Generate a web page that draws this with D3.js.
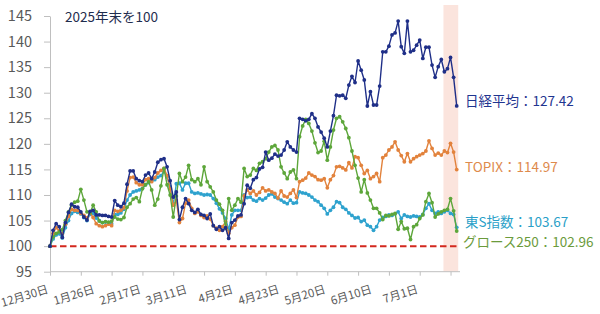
<!DOCTYPE html>
<html><head><meta charset="utf-8">
<script src="https://cdn.jsdelivr.net/npm/d3@7"></script>
<style>
body{margin:0;background:#fff;}
svg{display:block;font-family:"Noto Sans CJK JP","Noto Sans",sans-serif;}
</style>
</head><body>
<svg id="c" width="600" height="314"></svg>
<script>
// ---- data (index = trading day since 2025-12-30, 2025年末=100) ----
const nikkei = [100,103.1,104.4,103.8,101.7,104.6,106.6,108.2,107.7,107.6,
106.7,105.7,105.1,106.8,107.0,106.1,106.1,106.0,106.0,105.8,
105.7,108.9,108.0,107.7,108.4,112.1,114.7,114.7,113.2,112.8,
112.6,113.9,114.3,113.2,114.5,116.4,116.9,117.1,115.5,112.8,
109.6,110.6,105.2,107.6,109.3,108.3,107.0,106.6,107.2,106.2,
106.0,105.4,106.3,104.0,103.3,103.8,103.1,103.6,101.5,104.6,
105.1,105.9,106.1,108.3,111.9,111.3,113.0,113.4,115.1,115.4,
118.4,116.8,117.2,118.0,117.6,117.8,118.8,120.4,119.4,118.8,
118.4,125.0,124.8,124.5,124.8,125.9,125.0,123.3,122.3,121.1,
119.4,122.5,125.5,129.5,129.4,129.5,128.9,131.5,133.2,132.0,
136.2,134.4,132.5,127.4,130.2,127.6,127.6,131.3,138.0,138.0,
139.1,141.3,141.7,144.0,139.0,137.7,144.0,138.0,138.3,139.3,
140.3,136.7,138.9,138.9,135.4,133.0,135.1,136.5,134.1,134.7,
136.9,133.0,127.42];
const topix = [100,102.5,103.6,103.0,102.4,104.3,105.8,107.2,107.0,107.0,
106.4,106.0,105.5,106.5,105.6,104.4,104.0,103.8,104.0,104.3,
104.0,107.0,106.8,107.0,107.5,110.8,113.4,113.5,112.4,112.0,
112.0,113.0,113.2,112.6,113.4,114.3,114.8,115.2,113.8,111.2,
108.0,109.0,104.6,105.4,108.4,109.0,107.4,106.4,106.7,106.0,
105.6,105.9,105.3,104.0,103.5,103.1,103.8,104.8,102.5,103.6,
104.1,105.7,105.8,109.8,111.0,110.3,110.8,110.0,110.5,111.4,
110.8,111.0,110.6,110.3,109.4,110.8,109.8,109.6,110.3,111.0,
109.5,112.6,112.9,113.3,114.3,113.9,113.6,113.0,112.9,113.2,
111.4,113.0,113.8,115.5,115.6,115.3,114.9,116.3,115.3,117.5,
117.3,115.8,114.2,114.8,113.2,113.6,114.2,112.6,117.3,117.8,
118.8,119.4,120.4,118.8,117.7,116.5,118.1,116.5,117.1,117.5,
117.8,118.1,118.6,120.6,119.1,117.8,118.2,117.8,118.6,118.3,
120.1,118.4,114.97];
const tseStandard = [100,101.4,102.2,102.4,101.6,103.6,105.0,106.4,106.8,106.6,
106.3,105.6,105.0,106.2,106.4,105.5,105.0,104.6,104.7,104.6,
104.4,106.2,106.2,106.5,107.2,109.0,110.0,110.6,110.8,111.0,
111.3,112.0,112.4,112.8,113.0,113.5,113.8,114.6,113.5,111.6,
108.0,112.2,112.3,111.0,112.3,112.3,110.6,110.3,110.4,110.2,
110.0,110.1,110.0,109.3,108.4,107.3,106.5,105.4,103.2,106.1,
107.0,107.0,107.0,110.0,109.5,109.6,109.0,108.8,109.3,109.0,
109.4,110.0,110.2,109.6,109.3,109.0,108.6,108.3,109.0,108.4,
108.5,110.6,110.4,110.3,110.0,109.6,109.0,108.7,108.0,107.4,
106.3,107.0,107.6,108.7,108.5,107.6,107.2,106.5,106.0,105.5,
105.6,104.8,105.1,104.1,103.8,103.1,103.8,105.1,105.6,105.8,
106.1,106.0,106.3,106.7,105.4,106.1,105.8,105.7,105.9,105.8,
105.7,106.2,107.4,108.3,107.0,106.4,106.7,106.4,106.7,107.0,
106.4,106.2,103.67];
const growth250 = [100,101.8,102.5,102.8,103.2,105.0,106.7,108.0,108.6,108.8,
111.1,109.0,106.7,106.5,108.0,106.7,104.9,104.6,104.8,104.7,
104.9,105.7,105.3,105.2,105.6,107.6,108.3,109.2,109.5,108.7,
111.2,112.0,112.6,111.0,108.0,109.2,111.8,115.2,112.0,110.0,
105.7,109.8,114.2,112.6,113.5,115.8,113.0,112.6,113.2,112.0,
115.5,112.6,111.6,110.6,109.0,108.2,107.0,103.5,109.3,107.0,
108.0,109.3,108.6,115.2,113.6,113.9,115.2,114.8,116.2,116.5,
117.1,118.4,119.4,119.7,118.8,115.5,114.3,113.2,114.5,114.9,
113.2,121.4,123.5,124.8,124.0,122.5,120.2,118.3,118.6,120.5,
116.8,119.4,122.7,125.0,125.3,124.3,123.0,121.2,118.6,115.8,
113.3,110.6,113.0,110.4,109.0,107.4,107.4,106.5,105.2,106.0,
105.9,106.2,106.4,103.3,104.8,103.4,103.5,101.3,103.8,104.2,
105.4,106.1,108.7,110.3,108.5,105.7,106.3,106.7,107.0,107.2,
109.3,106.9,102.96];
const tickLabels = ["12月30日","1月26日","2月17日","3月11日","4月2日","4月23日","5月20日","6月10日","7月1日"];
const labelStep = 15;
const tickStep = 10;
const yTicks = [95,100,105,110,115,120,125,130,135,140,145];
const seriesNames = ["日経平均","TOPIX","東S指数","グロース250"];
const lastValues = ["127.42","114.97","103.67","102.96"];
const baseValue = 100;
const highlightRange = [127.7, 132];
const titleText = "2025年末を100";

// ---- drawing ----
const svg = d3.select("#c");
const n = nikkei.length;
const x = d3.scaleLinear().domain([0, n - 1]).range([50, 456.7]);
const y = d3.scaleLinear().domain([95, 145]).range([271.7, 16]);

// highlight band
svg.append("rect")
  .attr("x", x(highlightRange[0])).attr("y", 5)
  .attr("width", x(highlightRange[1]) - x(highlightRange[0]) + 1.5)
  .attr("height", y(95) - 5)
  .attr("fill", "#FADDD4").attr("opacity", 0.8);

// y axis
const yAxis = svg.append("g").attr("transform", "translate(50,0)")
  .call(d3.axisLeft(y).tickValues(yTicks).tickSize(6).tickSizeOuter(0).tickPadding(12).tickFormat(d3.format("d")));
yAxis.select(".domain").attr("stroke", "#BFBFBF");
yAxis.selectAll(".tick line").attr("stroke", "#BFBFBF");
yAxis.selectAll(".tick text").attr("fill", "#595959").attr("font-size", 14.5)
  .attr("font-family", '"Noto Sans CJK JP","Noto Sans",sans-serif');

// x axis
const xAxis = svg.append("g").attr("transform", `translate(0,${y(95)})`)
  .call(d3.axisBottom(x).tickValues(d3.range(0, n, tickStep)).tickSize(4).tickSizeOuter(0).tickFormat(""));
xAxis.select(".domain").attr("stroke", "#BFBFBF").attr("d", `M50,0H460`);
xAxis.selectAll(".tick line").attr("stroke", "#BFBFBF");

svg.append("g").selectAll("text").data(tickLabels).join("text")
  .attr("transform", (d, i) => `translate(${x(i * labelStep) - 1},${y(95) + 21}) rotate(-17)`)
  .attr("text-anchor", "end").attr("font-size", 11.5).attr("fill", "#595959")
  .text(d => d);

// baseline dashed
svg.append("line").attr("x1", 50).attr("x2", 460).attr("y1", y(baseValue)).attr("y2", y(baseValue))
  .attr("stroke", "#D3281E").attr("stroke-width", 2).attr("stroke-dasharray", "6.5,3.5");

// series
const series = [
  {name: seriesNames[2], vals: tseStandard, color: "#2EA2CE"},
  {name: seriesNames[1], vals: topix, color: "#E2823C"},
  {name: seriesNames[3], vals: growth250, color: "#5DA63A"},
  {name: seriesNames[0], vals: nikkei, color: "#1F2F88"}
];
const line = d3.line().x((d, i) => x(i)).y(d => y(d));
series.forEach(s => {
  const g = svg.append("g");
  g.append("path").attr("d", line(s.vals)).attr("fill", "none")
    .attr("stroke", s.color).attr("stroke-width", 1.4).attr("stroke-linejoin", "round");
  g.selectAll("circle").data(s.vals).join("circle")
    .attr("cx", (d, i) => x(i)).attr("cy", d => y(d)).attr("r", 1.9).attr("fill", s.color);
});

// end labels
const labels = [
  {t: seriesNames[0] + "：" + lastValues[0], c: "#1F3590", x: 465, y: 101},
  {t: seriesNames[1] + "：" + lastValues[1], c: "#DE8A4C", x: 465, y: 167},
  {t: seriesNames[2] + "：" + lastValues[2], c: "#2A9FC8", x: 465, y: 222.5},
  {t: seriesNames[3] + "：" + lastValues[3], c: "#6B9B3C", x: 463, y: 242.5}
];
svg.append("g").selectAll("text").data(labels).join("text")
  .attr("x", d => d.x).attr("y", d => d.y).attr("dy", "0.35em")
  .attr("font-size", 13.5).attr("fill", d => d.c).text(d => d.t);

// title
svg.append("text").attr("x", 65).attr("y", 22).attr("font-size", 13.5)
  .attr("fill", "#1F2D4E").text(titleText);
</script>
</body></html>
